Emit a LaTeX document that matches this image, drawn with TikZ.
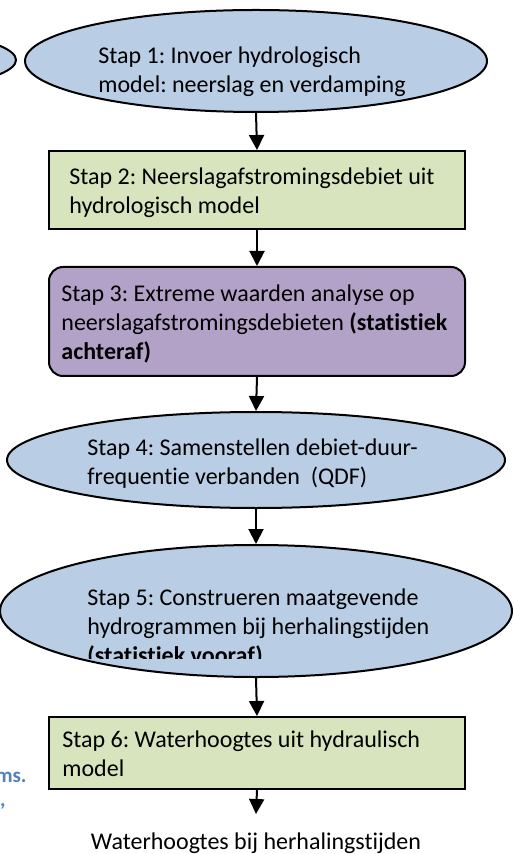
\documentclass[tikz,border=0pt]{standalone}
\usepackage{fontspec}
\setmainfont{Carlito}[Ligatures=NoCommon]
\usetikzlibrary{arrows.meta,shapes.geometric}
\definecolor{stapblauw}{HTML}{B9CDE5}
\definecolor{stapgroen}{HTML}{D7E4BD}
\definecolor{stappaars}{HTML}{B3A2C7}
\definecolor{notablauw}{HTML}{4F81BD}
\frenchspacing

\begin{document}
\begin{tikzpicture}[x=0.5pt,y=-0.5pt,
  ovaal/.style={draw=black,line width=1pt,fill=stapblauw,ellipse,inner sep=0pt},
  blok/.style={draw=black,line width=1pt,fill=stapgroen,inner sep=0pt,anchor=north west},
  tekst/.style={anchor=west,align=left,inner sep=0pt,font=\fontsize{12}{14.5}\selectfont},
  nota/.style={anchor=base east,inner sep=0pt,text=notablauw,font=\fontsize{10.5}{12}\selectfont\bfseries},
  pijl/.style={line width=1pt,-{Triangle[width=7.5pt,length=7.5pt]}}]
\useasboundingbox (0,0) rectangle (513,854);
\clip (0,0) rectangle (513,854);

\node[ovaal,minimum width=200pt,minimum height=36pt] (vorige) at (-184,60) {};

\node[ovaal,minimum width=231pt,minimum height=51pt] (e1) at (256,61) {};
\node[tekst] (t1) at (98,72) {Stap 1: Invoer hydrologisch\\model: neerslag en verdamping};

\node[blok,minimum width=208pt,minimum height=39pt] (b2) at (48,150) {};
\node[tekst] (t2) at (69,193) {Stap 2: Neerslagafstromingsdebiet uit\\hydrologisch model};

\node[blok,fill=stappaars,rounded corners=7pt,minimum width=208pt,minimum height=54.5pt] (b3) at (48,266) {};
\node[tekst] (t3) at (61,324) {Stap 3: Extreme waarden analyse op\\neerslagafstromingsdebieten \textbf{(statistiek}\\\textbf{achteraf)}};

\node[ovaal,minimum width=249pt,minimum height=48pt] (e4) at (256,460) {};
\node[tekst] (t4) at (87,464) {Stap 4: Samenstellen debiet-duur-\\frequentie verbanden\ \ (QDF)};

\node[ovaal,minimum width=256pt,minimum height=66pt] (e5) at (256,611) {};
\begin{scope}
\clip (0,540) rectangle (513,658);
\node[tekst] (t5) at (87,628) {Stap 5: Construeren maatgevende\\hydrogrammen bij herhalingstijden\\\textbf{(statistiek vooraf)}};
\end{scope}

\node[blok,minimum width=208pt,minimum height=36pt] (b6) at (48,716) {};
\node[tekst] (t6) at (62,754) {Stap 6: Waterhoogtes uit hydraulisch\\model};

\coordinate (eind) at (256,814);
\node[anchor=base,inner sep=0pt,font=\fontsize{12}{14.5}\selectfont] (uitkomst) at (256,849) {Waterhoogtes bij herhalingstijden};

\node[nota] (nota1) at (27,782) {ms.};
\node[nota] (nota2) at (6,806) {,};

\draw[pijl] (e1.south) -- (b2.north);
\draw[pijl] (b2.south) -- (b3.north);
\draw[pijl] (b3.south) -- (e4.north);
\draw[pijl] (e4.south) -- (e5.north);
\draw[pijl] (e5.south) -- (b6.north);
\draw[pijl] (b6.south) -- (eind);
\end{tikzpicture}
\end{document}
